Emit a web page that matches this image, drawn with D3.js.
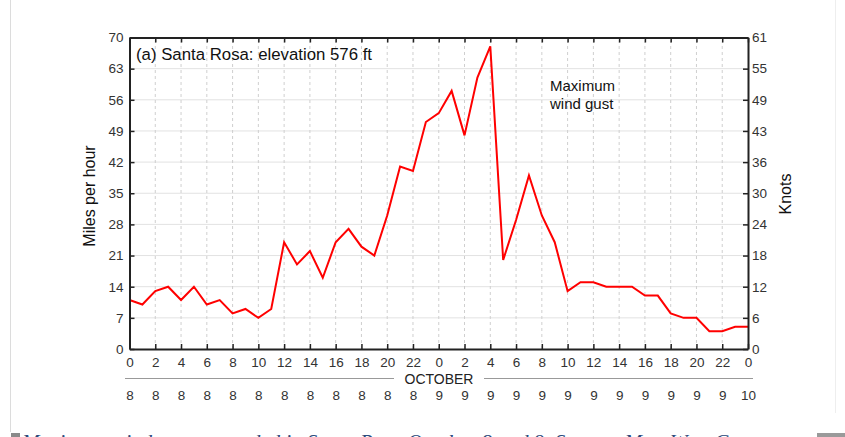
<!DOCTYPE html>
<html lang="en">
<head>
    <meta charset="UTF-8">
    <title>Santa Rosa maximum wind gust</title>
    <script src="https://d3js.org/d3.v7.min.js"></script>
    <style>
        body {
            margin: 0;
            background-color: #ffffff;
            font-family: "Liberation Sans", Arial, sans-serif;
        }
        .axis text {
            font-family: "Liberation Sans", Arial, sans-serif;
            fill: #333;
        }
    </style>
</head>
<body>
    <svg id="chart" width="845" height="437"></svg>

    <script>
        // hours since Oct 8 00:00
        const hours = d3.range(0, 49);
        // maximum wind gust (mph), one reading per hour
        const gustMph = [11, 10, 13, 14, 11, 14, 10, 11, 8, 9, 7, 9,
                         24, 19, 22, 16, 24, 27, 23, 21, 30, 41, 40, 51,
                         53, 58, 48, 61, 68, 20, 29, 39, 30, 24, 13, 15,
                         15, 14, 14, 14, 12, 12, 8, 7, 7, 4, 4, 5, 5];
        const mphTicks = [0, 7, 14, 21, 28, 35, 42, 49, 56, 63, 70];
        const knotLabels = ["0", "6", "12", "18", "24", "30", "36", "43", "49", "55", "61"];
        const hourTicks = d3.range(0, 49, 2);
        const hourLabels = hourTicks.map(h => String(h % 24));
        const dayLabels = hourTicks.map(h => String(8 + Math.floor(h / 24)));

        const svg = d3.select("#chart");
        const x = d3.scaleLinear().domain([0, 48]).range([129.5, 748]);
        const y = d3.scaleLinear().domain([0, 70]).range([349, 37.5]);

        // page decorations
        svg.append("line").attr("x1", 10.5).attr("x2", 10.5).attr("y1", 0).attr("y2", 432)
            .attr("stroke", "#dcdcdc");
        svg.append("line").attr("x1", 835.5).attr("x2", 835.5).attr("y1", 0).attr("y2", 413)
            .attr("stroke", "#eeeeee");
        svg.append("rect").attr("x", 11).attr("y", 433).attr("width", 9).attr("height", 4).attr("fill", "#8a8a8a");
        svg.append("rect").attr("x", 817).attr("y", 433).attr("width", 28).attr("height", 4).attr("fill", "#9a9a9a");

        // grid
        svg.append("g").selectAll("line").data(mphTicks.slice(1, -1)).join("line")
            .attr("x1", x(0)).attr("x2", x(48))
            .attr("y1", d => y(d)).attr("y2", d => y(d))
            .attr("stroke", "#e2e2e2").attr("stroke-width", 1);
        svg.append("g").selectAll("line").data(hourTicks.slice(1, -1)).join("line")
            .attr("x1", d => x(d)).attr("x2", d => x(d))
            .attr("y1", y(0)).attr("y2", y(70))
            .attr("stroke", "#cfcfcf").attr("stroke-width", 1).attr("stroke-dasharray", "3,3");

        // gust line
        const line = d3.line().x((d, i) => x(hours[i])).y(d => y(d));
        svg.append("path").datum(gustMph)
            .attr("d", line)
            .attr("fill", "none")
            .attr("stroke", "#ff0000")
            .attr("stroke-width", 2)
            .attr("stroke-linejoin", "miter");

        // axes (ticks point inwards)
        const axisStyle = g => {
            g.select(".domain").attr("stroke", "#222").attr("stroke-width", 2);
            g.selectAll(".tick line").attr("stroke", "#222").attr("stroke-width", 1.5);
            g.selectAll("text").attr("fill", "#333");
        };

        svg.append("g").attr("class", "axis")
            .attr("transform", `translate(${x(0)},0)`)
            .call(d3.axisLeft(y).tickValues(mphTicks).tickSize(-5).tickSizeOuter(0).tickPadding(6))
            .attr("font-size", 13.5)
            .call(axisStyle);

        svg.append("g").attr("class", "axis")
            .attr("transform", `translate(${x(48)},0)`)
            .call(d3.axisRight(y).tickValues(mphTicks).tickSize(-5).tickSizeOuter(0).tickPadding(4)
                .tickFormat((d, i) => knotLabels[i]))
            .attr("font-size", 13.5)
            .call(axisStyle);

        svg.append("g").attr("class", "axis")
            .attr("transform", `translate(0,${y(0)})`)
            .call(d3.axisBottom(x).tickValues(hourTicks).tickSize(-5).tickSizeOuter(0).tickPadding(8)
                .tickFormat((d, i) => hourLabels[i]))
            .attr("font-size", 13.5)
            .call(axisStyle);

        svg.append("g").attr("class", "axis")
            .attr("transform", `translate(0,${y(70)})`)
            .call(d3.axisTop(x).tickValues(hourTicks).tickSize(-5).tickSizeOuter(0).tickFormat(""))
            .call(axisStyle);

        // day row
        svg.append("g").attr("class", "axis")
            .attr("transform", "translate(0,390)")
            .call(d3.axisBottom(x).tickValues(hourTicks).tickSize(0).tickPadding(0)
                .tickFormat((d, i) => dayLabels[i]))
            .attr("font-size", 13.5)
            .call(g => g.select(".domain").remove())
            .call(g => g.selectAll("text").attr("fill", "#333"));

        // OCTOBER divider
        svg.append("line").attr("x1", 125).attr("x2", 394).attr("y1", 378.5).attr("y2", 378.5)
            .attr("stroke", "#999").attr("stroke-width", 1);
        svg.append("line").attr("x1", 484).attr("x2", 753).attr("y1", 378.5).attr("y2", 378.5)
            .attr("stroke", "#999").attr("stroke-width", 1);
        svg.append("text").attr("x", 439).attr("y", 383.5)
            .attr("text-anchor", "middle").attr("font-size", 14).attr("fill", "#222")
            .text("OCTOBER");

        // axis titles
        svg.append("text")
            .attr("transform", "translate(95,196) rotate(-90)")
            .attr("text-anchor", "middle").attr("font-size", 16).attr("fill", "#111")
            .text("Miles per hour");
        svg.append("text")
            .attr("transform", "translate(791,194) rotate(-90)")
            .attr("text-anchor", "middle").attr("font-size", 16).attr("fill", "#111")
            .text("Knots");

        // annotations
        svg.append("text").attr("x", 136).attr("y", 60)
            .attr("font-size", 16.8).attr("fill", "#111")
            .text("(a) Santa Rosa: elevation 576 ft");
        svg.append("text").attr("x", 550).attr("y", 90.5)
            .attr("font-size", 15).attr("fill", "#111").text("Maximum");
        svg.append("text").attr("x", 550).attr("y", 108.5)
            .attr("font-size", 15).attr("fill", "#111").text("wind gust");

        // caption, cut off at the bottom of the page as in the source
        svg.append("text").attr("x", 22).attr("y", 449)
            .attr("font-family", "'Liberation Serif', 'DejaVu Serif', serif")
            .attr("font-style", "italic").attr("font-size", 21).attr("fill", "#2b4a7c")
            .text("Maximum wind gusts recorded in Santa Rosa October 8 and 9. Source: MesoWest Co");
    </script>
</body>
</html>
